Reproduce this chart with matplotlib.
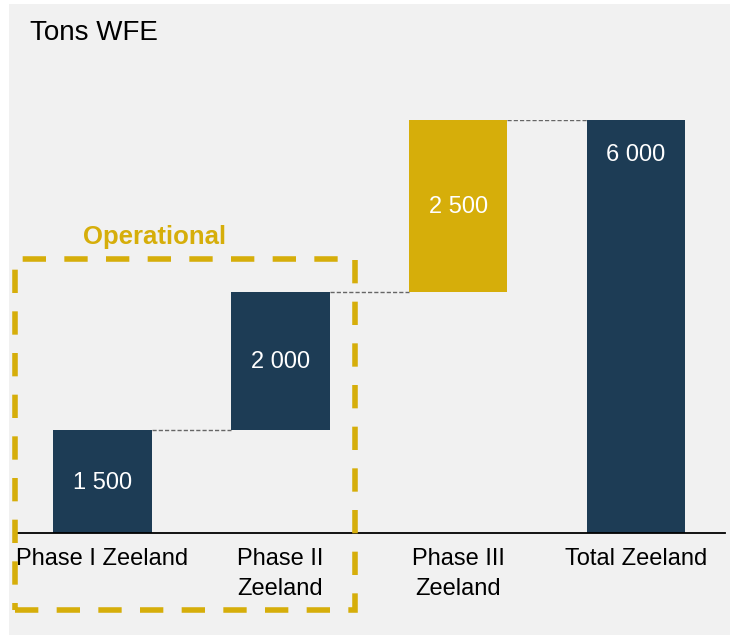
import numpy as np
import matplotlib.pyplot as plt
from matplotlib.patches import Rectangle

plt.rcParams['font.family'] = ['Liberation Sans', 'DejaVu Sans']

# Data
categories = ['Phase I Zeeland', 'Phase II\nZeeland', 'Phase III\nZeeland', 'Total Zeeland']
values = [1500, 2000, 2500, 6000]
is_total = [False, False, False, True]
labels = ['1 500', '2 000', '2 500', '6 000']

navy = '#1d3c55'
gold = '#d6ae0a'
bg = '#f1f1f1'

fig = plt.figure(figsize=(7.3, 6.35), dpi=100, facecolor='white')
# grey panel behind everything
fig.patches.append(Rectangle((9 / 730, 0), 1, 1 - 4 / 635, transform=fig.transFigure,
                             facecolor=bg, edgecolor='none', zorder=-10))

ax = fig.add_axes([15 / 730, 102 / 635, 710 / 730, 413 / 635])
ax.set_facecolor('none')
ax.set_zorder(1)

x = np.arange(len(categories))
bottoms = []
running = 0
for v, t in zip(values, is_total):
    if t:
        bottoms.append(0)
    else:
        bottoms.append(running)
        running += v
colors = [navy, navy, gold, navy]
width = 0.555
ax.bar(x, values, width, bottom=bottoms, color=colors, zorder=2)

# connectors
tops = [b + v for b, v in zip(bottoms, values)]
for i in range(len(values) - 1):
    ax.plot([x[i] + width / 2, x[i + 1] - width / 2], [tops[i], tops[i]],
            color='#666666', lw=1, ls=(0, (3, 1.5)), zorder=1)

# value labels
for i, (b, v, lab) in enumerate(zip(bottoms, values, labels)):
    if is_total[i]:
        ax.annotate(lab, (x[i], b + v), xytext=(0, -25), textcoords='offset points',
                    ha='center', va='center', color='white', fontsize=17)
    else:
        ax.annotate(lab, (x[i], b + v / 2), xytext=(0, -1), textcoords='offset points',
                    ha='center', va='center', color='white', fontsize=17)

ax.set_xlim(-0.49, 3.5)
ax.set_ylim(0, 6000)
ax.set_xticks(x)
ax.set_xticklabels(categories, fontsize=17, linespacing=1.45)
ax.tick_params(axis='x', length=0, pad=11)
ax.set_yticks([])
for s in ['top', 'right', 'left']:
    ax.spines[s].set_visible(False)
ax.spines['bottom'].set_linewidth(1.3)
ax.spines['bottom'].set_zorder(3)

# operational box
fig.patches.append(Rectangle((14.5 / 730, 1 - 610 / 635), (355 - 14.5) / 730, (610 - 259) / 635,
                             transform=fig.transFigure, fill=False, edgecolor=gold,
                             lw=4, ls=(0, (4.2, 3.3)), zorder=5))
fig.text(155 / 730, 1 - 237 / 635, 'Operational', color=gold, fontsize=18.5,
         fontweight='bold', ha='center', va='center')

fig.text(30 / 730, 1 - 33 / 635, 'Tons WFE', fontsize=20, ha='left', va='center')

fig.savefig('out.png', dpi=100, facecolor=fig.get_facecolor())
